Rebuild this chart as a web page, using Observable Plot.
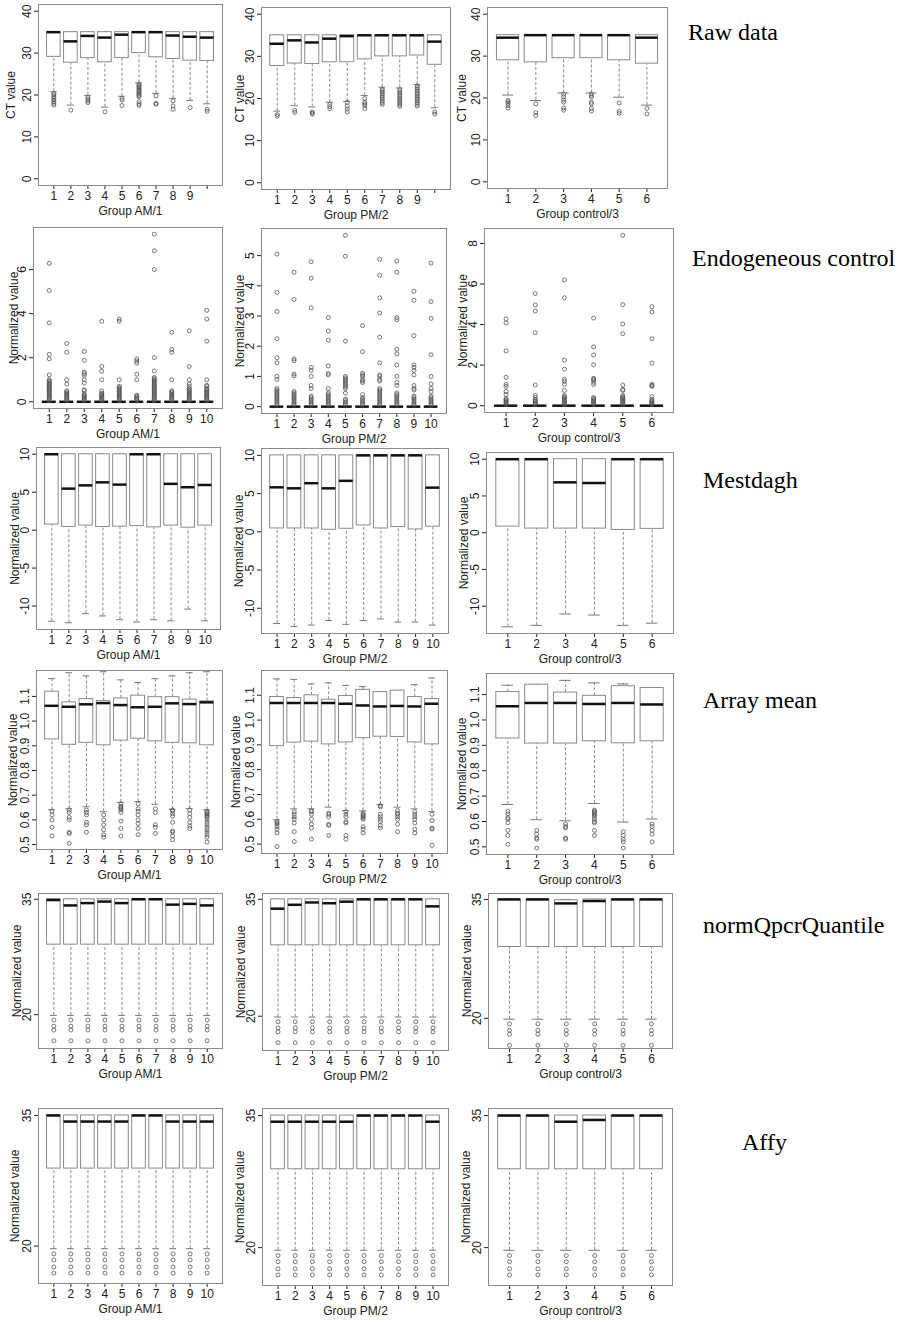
<!DOCTYPE html>
<html><head><meta charset="utf-8">
<script src="https://cdn.jsdelivr.net/npm/d3@7"></script>
<script src="https://cdn.jsdelivr.net/npm/@observablehq/plot@0.6"></script>
<style>
body{margin:0;background:#fff;}
#page{position:relative;width:899px;height:1325px;overflow:hidden;background:#fff;}
.rowlabel{position:absolute;font-family:"Liberation Serif","Times New Roman",serif;font-size:24px;color:#000;white-space:nowrap;transform:translateY(-50%);}
</style></head><body><div id="page"></div>
<script>
// Each box: [lowerWhisker, Q1, median, Q3, upperWhisker, [outliers]]
const xTicks10 = [1,2,3,4,5,6,7,8,9,10];
const xTicks6 = [1,2,3,4,5,6];
const rowNames = ["Raw data","Endogeneous control","Mestdagh","Array mean","normQpcrQuantile","Affy"];
const groupNames = ["Group AM/1","Group PM/2","Group control/3"];

const rawAM = [
  [20.8,29.1,35,35,35,[20.3,20,19.6,19.2,18.8,18.4,18,17.6]],
  [17.6,27.7,32.8,35,35,[16.4]],
  [19.9,28.8,34.1,35,35,[19.4,19,18.6,18.2]],
  [17.1,27.8,33.7,35,35,[16.0]],
  [19.7,28.8,34.4,35,35,[19.2,18.8,17.5]],
  [22.9,30.0,35,35,35,[22.6,22.3,22,21.7,21.4,21.1,20.8,20.5,20.2,19.9,19.6,18.4,17.9,17.5]],
  [20.4,29.0,35,35,35,[19.8,18,17.8]],
  [19.2,28.6,34.2,35,35,[18.6,17.4,16.6]],
  [18.7,28.2,33.9,35,35,[17.0]],
  [17.9,28.1,33.7,35,35,[16.6,16.1]]
];
const rawPM = [
  [17.0,27.7,33.0,35,35,[16.2,15.8]],
  [18.3,28.3,33.8,35,35,[17.2,16.7]],
  [18.0,28.2,33.3,35,35,[16.8,16.5,16.3]],
  [19.1,28.6,34.2,35,35,[18.6,18.1,17.6]],
  [19.3,28.6,34.8,35,35,[19.1,18.2,17.5,16.8]],
  [20.7,29.3,35,35,35,[20,19.1,18.7,18.3,17.6]],
  [22.7,30.0,35,35,35,[22.2,21.9,21.5,21.1,20.7,20.3,19.9,19.4,19,18.6]],
  [22.5,30.0,35,35,35,[22.1,21.7,21.3,20.9,20.5,20.1,19.7,19.3,18.9,18.5,18.1]],
  [23.3,30.2,35,35,35,[23,22.6,22.2,21.8,21.4,21,20.6,20.2,19.8,19.4,19,18.6,18.2]],
  [17.8,28.0,33.5,35,35,[16.8,16.3]]
];
const rawCtrl = [
  [20.7,29.0,34.4,35,35,[19.4,19.1,18.7,18.2,17.6]],
  [19.4,28.5,35,35,35,[18.6,16.5,15.8]],
  [21.2,29.5,35,35,35,[20.9,20.3,19.5,19,17.6,17.1]],
  [21.2,29.5,35,35,35,[21,20.6,20.2,19,18.6,17.5,16.9]],
  [20.2,29.0,35,35,35,[18.8,16.8,16.3]],
  [18.3,28.2,34.4,35,35,[17.5,16.2]]
];

const endoAM = [
  [0,0,0,0,0,[6.28,5.05,3.58,2.15,1.95,1.22,1.0,0.95,0.9,0.85,0.8,0.75,0.7,0.65,0.6,0.55,0.5,0.45,0.4,0.35,0.3,0.25,0.2,0.15,0.1,0.05]],
  [0,0,0,0,0,[2.65,2.25,1.0,0.8,0.5,0.45,0.4,0.35,0.3,0.25,0.2,0.15,0.1,0.05]],
  [0,0,0,0,0,[2.28,1.88,1.35,1.28,1.2,1.0,0.85,0.55,0.5,0.35,0.3,0.25,0.2,0.15,0.1,0.05]],
  [0,0,0,0,0,[3.65,1.6,1.38,1.0,0.5,0.4,0.35,0.3,0.25,0.2,0.15,0.1,0.05]],
  [0,0,0,0,0,[3.75,3.65,1.0,0.7,0.65,0.6,0.55,0.5,0.45,0.4,0.35,0.3,0.25,0.2,0.15,0.1,0.05]],
  [0,0,0,0,0,[1.95,1.85,1.75,1.25,1.0,0.3,0.25,0.2,0.15,0.1,0.05]],
  [0,0,0,0,0,[7.6,6.85,6.0,2.0,1.4,1.1,1.05,1.0,0.95,0.9,0.85,0.8,0.75,0.7,0.65,0.6,0.55,0.5,0.45,0.4,0.35,0.3,0.25,0.2,0.15,0.1,0.05]],
  [0,0,0,0,0,[3.15,2.38,2.25,1.0,0.5,0.45,0.4,0.35,0.3,0.25,0.2,0.15,0.1,0.05]],
  [0,0,0,0,0,[3.22,1.6,1.0,0.8,0.7,0.6,0.55,0.5,0.45,0.4,0.35,0.3,0.25,0.2,0.15,0.1,0.05]],
  [0,0,0,0,0,[4.15,3.75,2.75,1.0,0.75,0.7,0.6,0.55,0.5,0.45,0.4,0.35,0.3,0.25,0.2,0.15,0.1,0.05]]
];
const endoPM = [
  [0,0,0,0,0,[5.05,3.78,3.15,2.25,1.62,1.45,1.0,0.9,0.6,0.55,0.5,0.45,0.4,0.35,0.3,0.25,0.2,0.15,0.1,0.05]],
  [0,0,0,0,0,[4.45,3.55,1.58,1.52,1.08,1.02,0.5,0.45,0.4,0.35,0.3,0.25,0.2,0.15,0.1,0.05]],
  [0,0,0,0,0,[4.8,4.25,3.27,1.3,1.2,1.0,0.7,0.6,0.35,0.3,0.25,0.2,0.15,0.1,0.05]],
  [0,0,0,0,0,[2.95,2.5,2.2,1.35,1.1,1.05,0.6,0.45,0.4,0.35,0.3,0.25,0.2,0.15,0.1,0.05]],
  [0,0,0,0,0,[5.67,4.98,2.17,1.0,0.95,0.9,0.85,0.8,0.75,0.7,0.65,0.6,0.45,0.25,0.2,0.15,0.1,0.05]],
  [0,0,0,0,0,[2.68,1.82,1.1,1.05,1.0,0.9,0.85,0.8,0.4,0.3,0.25,0.2,0.15,0.1,0.05]],
  [0,0,0,0,0,[4.88,4.35,3.6,3.1,2.3,1.45,1.05,1.0,0.9,0.85,0.6,0.55,0.5,0.45,0.4,0.35,0.3,0.25,0.2,0.15,0.1,0.05]],
  [0,0,0,0,0,[4.82,4.45,2.95,2.88,1.9,1.75,1.38,1.0,0.8,0.7,0.45,0.4,0.35,0.3,0.25,0.2,0.15,0.1,0.05]],
  [0,0,0,0,0,[3.82,3.52,2.35,1.38,1.3,1.2,1.05,0.7,0.6,0.55,0.35,0.3,0.25,0.2,0.15,0.1,0.05]],
  [0,0,0,0,0,[4.75,3.48,2.92,1.72,1.0,0.75,0.6,0.5,0.35,0.3,0.25,0.2,0.15,0.1,0.05]]
];
const endoCtrl = [
  [0,0,0,0,0,[4.28,4.08,2.7,1.4,1.05,0.95,0.7,0.55,0.35,0.3,0.25,0.2,0.15,0.1,0.05]],
  [0,0,0,0,0,[5.53,4.97,4.67,3.6,1.02,0.5,0.4,0.3,0.25,0.2,0.15,0.1,0.05]],
  [0,0,0,0,0,[6.2,5.32,2.25,1.8,1.3,1.2,1.05,0.75,0.5,0.45,0.4,0.35,0.3,0.25,0.2,0.15,0.1,0.05]],
  [0,0,0,0,0,[4.32,2.9,2.5,2.02,1.35,1.3,1.25,1.15,1.05,0.4,0.35,0.3,0.25,0.2,0.15,0.1,0.05]],
  [0,0,0,0,0,[8.4,4.98,4.03,3.55,1.02,0.8,0.75,0.5,0.45,0.4,0.35,0.3,0.25,0.2,0.15,0.1,0.05]],
  [0,0,0,0,0,[4.88,4.62,3.3,2.1,1.05,1.0,0.95,0.45,0.3,0.25,0.2,0.15,0.1,0.05]]
];

const mestAM = [
  [-12.0,0.73,10,10,10,[]],[-12.2,0.42,5.47,10,10,[]],[-11.0,0.6,5.9,10,10,[]],
  [-11.3,0.42,6.3,10,10,[]],[-11.8,0.46,6.0,10,10,[]],[-12.1,0.55,10,10,10,[]],
  [-11.8,0.37,10,10,10,[]],[-11.95,0.6,6.1,10,10,[]],[-10.4,0.33,5.65,10,10,[]],
  [-11.95,0.6,5.95,10,10,[]]
];
const mestPM = [
  [-12.0,0.44,5.82,10,10,[]],[-12.4,0.44,5.69,10,10,[]],[-12.2,0.44,6.36,10,10,[]],
  [-11.6,0.27,5.69,10,10,[]],[-12.1,0.4,6.67,10,10,[]],[-11.6,0.84,10,10,10,[]],
  [-11.4,0.44,10,10,10,[]],[-11.8,0.62,10,10,10,[]],[-11.8,0.31,10,10,10,[]],
  [-12.2,0.67,5.78,10,10,[]]
];
const mestCtrl = [
  [-12.8,0.83,10,10,10,[]],[-12.6,0.56,10,10,10,[]],[-11.05,0.56,6.85,10,10,[]],
  [-11.2,0.56,6.76,10,10,[]],[-12.6,0.38,10,10,10,[]],[-12.3,0.52,10,10,10,[]]
];

const arrAM = [
  [0.641,0.926,1.062,1.119,1.172,[0.635,0.62,0.60,0.57,0.535]],
  [0.645,0.904,1.058,1.076,1.196,[0.64,0.63,0.61,0.6,0.55,0.545,0.505]],
  [0.653,0.912,1.068,1.089,1.183,[0.64,0.63,0.62,0.59,0.58,0.55]],
  [0.633,0.902,1.073,1.081,1.2,[0.62,0.6,0.58,0.56,0.54,0.53]],
  [0.671,0.921,1.065,1.092,1.167,[0.665,0.655,0.65,0.645,0.64,0.63,0.595,0.565,0.535]],
  [0.674,0.929,1.056,1.103,1.156,[0.665,0.645,0.635,0.62,0.60,0.585,0.565,0.54]],
  [0.663,0.918,1.058,1.097,1.172,[0.645,0.63,0.58,0.57,0.545]],
  [0.643,0.912,1.072,1.097,1.183,[0.64,0.635,0.625,0.615,0.59,0.555,0.55,0.535,0.52]],
  [0.645,0.91,1.069,1.087,1.196,[0.64,0.625,0.61,0.59,0.575,0.565]],
  [0.641,0.902,1.076,1.08,1.2,[0.635,0.63,0.625,0.62,0.615,0.61,0.6,0.59,0.58,0.57,0.56,0.55,0.54,0.53,0.51]]
];
const arrPM = [
  [0.598,0.895,1.069,1.093,1.166,[0.59,0.585,0.58,0.57,0.56,0.545,0.49]],
  [0.642,0.909,1.069,1.089,1.164,[0.63,0.62,0.61,0.6,0.585,0.55,0.51]],
  [0.642,0.913,1.069,1.1,1.146,[0.635,0.63,0.62,0.6,0.58,0.565,0.52]],
  [0.649,0.902,1.069,1.082,1.15,[0.625,0.62,0.61,0.58,0.575,0.535]],
  [0.635,0.91,1.066,1.097,1.14,[0.63,0.62,0.61,0.59,0.585,0.535,0.52]],
  [0.634,0.927,1.059,1.122,1.135,[0.625,0.62,0.615,0.61,0.605,0.6,0.57,0.56,0.545]],
  [0.659,0.933,1.055,1.113,1.113,[0.655,0.65,0.62,0.61,0.6,0.59,0.575,0.565]],
  [0.649,0.932,1.057,1.119,1.119,[0.635,0.625,0.62,0.61,0.6,0.58,0.55]],
  [0.642,0.91,1.055,1.093,1.143,[0.63,0.62,0.61,0.6,0.585,0.56,0.545]],
  [0.631,0.902,1.066,1.085,1.17,[0.62,0.595,0.565,0.56,0.495]]
];
const arrCtrl = [
  [0.667,0.927,1.054,1.11,1.137,[0.64,0.63,0.615,0.61,0.595,0.565,0.545,0.51]],
  [0.607,0.907,1.067,1.139,1.14,[0.565,0.55,0.535,0.53,0.495]],
  [0.603,0.907,1.067,1.108,1.156,[0.59,0.58,0.575,0.535,0.53]],
  [0.671,0.916,1.063,1.095,1.146,[0.645,0.64,0.635,0.63,0.625,0.62,0.61,0.6,0.595,0.565,0.545]],
  [0.598,0.908,1.067,1.133,1.142,[0.56,0.545,0.53,0.52,0.495]],
  [0.61,0.916,1.061,1.126,1.126,[0.59,0.58,0.565,0.55,0.52]]
];

const quantAM = [
  [19.9,29.1,34.9,35,35,[19.3,18.5,18.0,16.6]],[19.9,29.1,34.2,35,35,[19.3,18.5,18.0,16.6]],
  [19.9,29.1,34.5,35,35,[19.3,18.5,18.0,16.6]],[19.9,29.1,34.7,35,35,[19.3,18.5,18.0,16.6]],
  [19.9,29.1,34.5,35,35,[19.3,18.5,18.0,16.6]],[19.9,29.1,35,35,35,[19.3,18.5,18.0,16.6]],
  [19.9,29.1,35,35,35,[19.3,18.5,18.0,16.6]],[19.9,29.1,34.3,35,35,[19.3,18.5,18.0,16.6]],
  [19.9,29.1,34.4,35,35,[19.3,18.5,18.0,16.6]],[19.9,29.1,34.2,35,35,[19.3,18.5,18.0,16.6]]
];
const quantPM = [
  [19.9,29.1,33.8,35,35,[19.3,18.5,18.0,16.6]],[19.9,29.1,34.3,35,35,[19.3,18.5,18.0,16.6]],
  [19.9,29.1,34.6,35,35,[19.3,18.5,18.0,16.6]],[19.9,29.1,34.5,35,35,[19.3,18.5,18.0,16.6]],
  [19.9,29.1,34.7,35,35,[19.3,18.5,18.0,16.6]],[19.9,29.1,35,35,35,[19.3,18.5,18.0,16.6]],
  [19.9,29.1,35,35,35,[19.3,18.5,18.0,16.6]],[19.9,29.1,35,35,35,[19.3,18.5,18.0,16.6]],
  [19.9,29.1,35,35,35,[19.3,18.5,18.0,16.6]],[19.9,29.1,34.1,35,35,[19.3,18.5,18.0,16.6]]
];
const quantCtrl = [
  [19.9,29.0,35,35,35,[19.3,18.5,18.0,16.6]],[19.9,29.0,35,35,35,[19.3,18.5,18.0,16.6]],
  [19.9,29.0,34.5,34.9,35,[19.3,18.5,18.0,16.6]],[19.9,29.0,34.8,35,35,[19.3,18.5,18.0,16.6]],
  [19.9,29.0,35,35,35,[19.3,18.5,18.0,16.6]],[19.9,29.0,35,35,35,[19.3,18.5,18.0,16.6]]
];

const affyAM = [
  [19.7,28.9,35,35,35,[19.1,18.4,17.6,16.9]],[19.7,28.9,34.3,35,35,[19.1,18.4,17.6,16.9]],
  [19.7,28.9,34.3,35,35,[19.1,18.4,17.6,16.9]],[19.7,28.9,34.3,35,35,[19.1,18.4,17.6,16.9]],
  [19.7,28.9,34.3,35,35,[19.1,18.4,17.6,16.9]],[19.7,28.9,35,35,35,[19.1,18.4,17.6,16.9]],
  [19.7,28.9,35,35,35,[19.1,18.4,17.6,16.9]],[19.7,28.9,34.3,35,35,[19.1,18.4,17.6,16.9]],
  [19.7,28.9,34.3,35,35,[19.1,18.4,17.6,16.9]],[19.7,28.9,34.3,35,35,[19.1,18.4,17.6,16.9]]
];
const affyPM = [
  [19.7,28.9,34.3,35,35,[19.1,18.4,17.6,16.9]],[19.7,28.9,34.3,35,35,[19.1,18.4,17.6,16.9]],
  [19.7,28.9,34.3,35,35,[19.1,18.4,17.6,16.9]],[19.7,28.9,34.3,35,35,[19.1,18.4,17.6,16.9]],
  [19.7,28.9,34.3,35,35,[19.1,18.4,17.6,16.9]],[19.7,28.9,35,35,35,[19.1,18.4,17.6,16.9]],
  [19.7,28.9,35,35,35,[19.1,18.4,17.6,16.9]],[19.7,28.9,35,35,35,[19.1,18.4,17.6,16.9]],
  [19.7,28.9,35,35,35,[19.1,18.4,17.6,16.9]],[19.7,28.9,34.3,35,35,[19.1,18.4,17.6,16.9]]
];
const affyCtrl = [
  [19.7,28.9,35,35,35,[19.1,18.4,17.6,16.9]],[19.7,28.9,35,35,35,[19.1,18.4,17.6,16.9]],
  [19.7,28.9,34.3,35,35,[19.1,18.4,17.6,16.9]],[19.7,28.9,34.5,35,35,[19.1,18.4,17.6,16.9]],
  [19.7,28.9,35,35,35,[19.1,18.4,17.6,16.9]],[19.7,28.9,35,35,35,[19.1,18.4,17.6,16.9]]
];

const yTicksRaw = [0,10,20,30,40];
const yTicksEndoAM = [0,2,4,6];
const yTicksEndoPM = [0,1,2,3,4,5];
const yTicksEndoCtrl = [0,2,4,6,8];
const yTicksMest = [-10,-5,0,5,10];
const yTicksArr = [0.5,0.6,0.7,0.8,0.9,1.0,1.1];
const yTicksHigh = [20,35];

// ---------- layout ----------
const page = document.getElementById("page");
const GRAY = "#8a8a8a";

function panel(o) {
  const [L, R, T, B] = o.frame;
  const n = o.data.length;
  const stats = o.data.map((d, k) => ({i: k + 1, lo: d[0], q1: d[1], med: d[2], q3: d[3], hi: d[4]}));
  const outs = o.data.flatMap((d, k) => d[5].map(v => ({i: k + 1, v})));
  const mL = 44, mR = 4, mT = 4, mB = 40;
  const pad = 0.04 * n;
  const xt = n === 10 ? xTicks10 : xTicks6;
  const hide = o.hide || [];
  const svg = Plot.plot({
    width: (R - L) + mL + mR,
    height: (B - T) + mT + mB,
    marginLeft: mL, marginRight: mR, marginTop: mT, marginBottom: mB,
    style: {fontFamily: "'Liberation Sans', Arial, sans-serif", fontSize: "12px", color: "#222", background: "transparent", overflow: "visible"},
    x: {type: "linear", domain: [0.5 - pad, n + 0.5 + pad], ticks: xt, tickSize: 4, tickPadding: 2,
        tickFormat: d => hide.includes(d) ? "" : String(d),
        label: o.xlabel, labelAnchor: "center", labelOffset: 29, labelArrow: "none"},
    y: {domain: o.domain, ticks: o.yticks, tickSize: 4, tickPadding: 4, tickRotate: -90,
        tickFormat: o.yfmt || (d => String(d)),
        label: o.ylabel, labelAnchor: "center", labelOffset: o.yOff, labelArrow: "none"},
    marks: [
      Plot.ruleX(stats, {x: "i", y1: "q3", y2: "hi", stroke: GRAY, strokeDasharray: "3,2"}),
      Plot.ruleX(stats, {x: "i", y1: "lo", y2: "q1", stroke: GRAY, strokeDasharray: "3,2"}),
      Plot.ruleY(stats, {y: "lo", x1: d => d.i - 0.2, x2: d => d.i + 0.2, stroke: "#777"}),
      Plot.ruleY(stats, {y: "hi", x1: d => d.i - 0.2, x2: d => d.i + 0.2, stroke: "#777"}),
      Plot.rect(stats, {x1: d => d.i - 0.4, x2: d => d.i + 0.4, y1: "q1", y2: "q3", fill: "white", stroke: GRAY}),
      Plot.ruleY(stats, {y: "med", x1: d => d.i - 0.4, x2: d => d.i + 0.4, stroke: "#111", strokeWidth: 2.5}),
      Plot.dot(outs, {x: "i", y: "v", r: 2, stroke: "#555", strokeWidth: 0.8, fill: "none"}),
      Plot.frame({stroke: GRAY})
    ]
  });
  svg.style.position = "absolute";
  svg.style.left = (L - mL) + "px";
  svg.style.top = (T - mT) + "px";
  page.appendChild(svg);
}

const f1 = d3.format(".1f");
const panels = [
  {data: rawAM, frame: [38,222,4,185], domain: [-1.6,41.6], yticks: yTicksRaw, xlabel: groupNames[0], ylabel: "CT value", hide: [10], yOff: 32},
  {data: rawPM, frame: [261,450,7,189], domain: [-1.6,41.6], yticks: yTicksRaw, xlabel: groupNames[1], ylabel: "CT value", hide: [10], yOff: 26},
  {data: rawCtrl, frame: [487,667,7,188], domain: [-1.6,41.6], yticks: yTicksRaw, xlabel: groupNames[2], ylabel: "CT value", yOff: 30},

  {data: endoAM, frame: [33,222,227,408], domain: [-0.304,7.904], yticks: yTicksEndoAM, xlabel: groupNames[0], ylabel: "Normalized value", yOff: 24},
  {data: endoPM, frame: [261,446,228,413], domain: [-0.227,5.897], yticks: yTicksEndoPM, xlabel: groupNames[1], ylabel: "Normalized value", yOff: 26},
  {data: endoCtrl, frame: [484,673,228,412], domain: [-0.336,8.736], yticks: yTicksEndoCtrl, xlabel: groupNames[2], ylabel: "Normalized value", yOff: 26},

  {data: mestAM, frame: [36,220,447,629], domain: [-13.09,10.89], yticks: yTicksMest, xlabel: groupNames[0], ylabel: "Normalized value", yOff: 26},
  {data: mestPM, frame: [261,448,448,633], domain: [-13.3,10.9], yticks: yTicksMest, xlabel: groupNames[1], ylabel: "Normalized value", yOff: 27},
  {data: mestCtrl, frame: [486,673,452,633], domain: [-13.71,10.91], yticks: yTicksMest, xlabel: groupNames[2], ylabel: "Normalized value", yOff: 27},

  {data: arrAM, frame: [36,222,670,849], domain: [0.48,1.205], yticks: yTicksArr, yfmt: f1, xlabel: groupNames[0], ylabel: "Normalized value", yOff: 28},
  {data: arrPM, frame: [261,447,670,853], domain: [0.462,1.2], yticks: yTicksArr, yfmt: f1, xlabel: groupNames[1], ylabel: "Normalized value", yOff: 30},
  {data: arrCtrl, frame: [486,673,673,854], domain: [0.47,1.183], yticks: yTicksArr, yfmt: f1, xlabel: groupNames[2], ylabel: "Normalized value", yOff: 29},

  {data: quantAM, frame: [38,222,893,1048], domain: [15.6,35.75], yticks: yTicksHigh, xlabel: groupNames[0], ylabel: "Normalized value", yOff: 26},
  {data: quantPM, frame: [262,448,893,1050], domain: [15.6,35.75], yticks: yTicksHigh, xlabel: groupNames[1], ylabel: "Normalized value", yOff: 26},
  {data: quantCtrl, frame: [488,672,893,1048], domain: [16.2,35.75], yticks: yTicksHigh, xlabel: groupNames[2], ylabel: "Normalized value", yOff: 26},

  {data: affyAM, frame: [38,222,1108,1283], domain: [15.7,35.8], yticks: yTicksHigh, xlabel: groupNames[0], ylabel: "Normalized value", yOff: 28},
  {data: affyPM, frame: [262,448,1108,1285], domain: [15.7,35.8], yticks: yTicksHigh, xlabel: groupNames[1], ylabel: "Normalized value", yOff: 27},
  {data: affyCtrl, frame: [488,672,1108,1285], domain: [15.7,35.8], yticks: yTicksHigh, xlabel: groupNames[2], ylabel: "Normalized value", yOff: 27}
];
panels.forEach(panel);

const labelPos = [[688,32],[692,258],[703,480],[703,700],[703,925],[742,1142]];
rowNames.forEach((t, k) => {
  const d = document.createElement("div");
  d.className = "rowlabel";
  d.textContent = t;
  d.style.left = labelPos[k][0] + "px";
  d.style.top = labelPos[k][1] + "px";
  page.appendChild(d);
});
</script></body></html>
